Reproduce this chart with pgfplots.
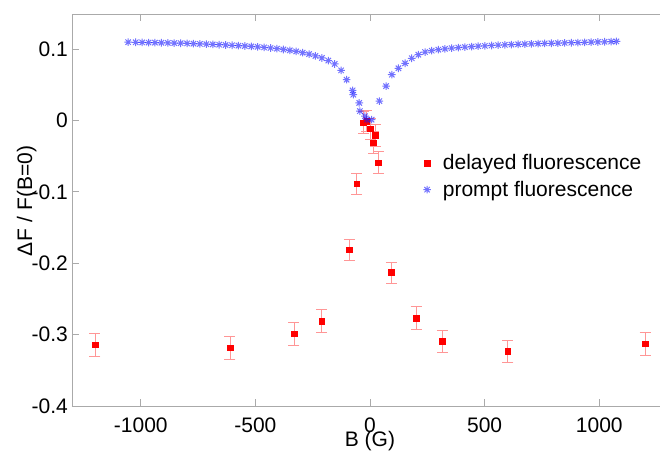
\documentclass[border=0pt]{standalone}
\usepackage{pgfplots}
\pgfplotsset{compat=1.18}
\usepackage{fontspec}
\setmainfont{Liberation Sans}
\definecolor{axgray}{RGB}{170,170,170}
\definecolor{errred}{RGB}{255,150,150}
\definecolor{promptblue}{RGB}{20,20,255}

% eight-armed star, like the + and x put together
\pgfdeclareplotmark{star8}{%
  \pgfpathmoveto{\pgfqpoint{-\pgfplotmarksize}{0pt}}%
  \pgfpathlineto{\pgfqpoint{\pgfplotmarksize}{0pt}}%
  \pgfpathmoveto{\pgfqpoint{0pt}{-\pgfplotmarksize}}%
  \pgfpathlineto{\pgfqpoint{0pt}{\pgfplotmarksize}}%
  \pgfpathmoveto{\pgfqpoint{-.707\pgfplotmarksize}{-.707\pgfplotmarksize}}%
  \pgfpathlineto{\pgfqpoint{.707\pgfplotmarksize}{.707\pgfplotmarksize}}%
  \pgfpathmoveto{\pgfqpoint{-.707\pgfplotmarksize}{.707\pgfplotmarksize}}%
  \pgfpathlineto{\pgfqpoint{.707\pgfplotmarksize}{-.707\pgfplotmarksize}}%
  \pgfusepathqstroke}

\begin{document}
\begin{tikzpicture}
  \begin{axis}[
    scale only axis,
    width=588pt, height=392pt,
    xmin=-1300, xmax=1265,
    ymin=-0.4, ymax=0.149,
    axis x line*=box,
    axis y line*=left,
    axis line style={axgray, line width=0.8pt},
    tick style={axgray, line width=0.8pt},
    tick align=inside,
    major tick length=7pt,
    xtick={-1000,-500,0,500,1000},
    xticklabels={-1000,-500,0,500,1000},
    ytick={-0.4,-0.3,-0.2,-0.1,0,0.1},
    yticklabels={-0.4,-0.3,-0.2,-0.1,0,0.1},
    font=\fontsize{21}{25}\selectfont,
    xticklabel style={inner sep=0pt, anchor=north, yshift=-12pt},
    yticklabel style={inner sep=0pt, anchor=east, xshift=-4pt},
    xlabel={B (G)},
    xlabel style={at={(axis description cs:0.5068,-0.1038)}, anchor=base, inner sep=0pt},
    ylabel={ΔF\hspace{0.3em}/\hspace{0.3em}F(B=0)},
    ylabel style={at={(axis description cs:-0.068,0.523)}, anchor=base, inner sep=0pt},
    legend style={draw=none, fill=none, at={(axis description cs:0.592,0.652)}, anchor=north west,
      row sep=6pt, column sep=10pt, nodes={inner sep=2pt}},
    legend cell align=left,
  ]
    % delayed fluorescence, with error bars
    \addplot [only marks, mark=square*, mark size=2.8pt, color=red,
      error bars/.cd, y dir=both, y explicit,
      error bar style={errred, line width=0.8pt},
      error mark options={errred, rotate=90, mark size=5.5pt, line width=0.8pt}]
      coordinates {
      (-1200, -0.3144) +- (0, 0.0156)
      (-611,  -0.3185) +- (0, 0.0160)
      (-332,  -0.2990) +- (0, 0.0155)
      (-211,  -0.2810) +- (0, 0.0156)
      (-90,   -0.1813) +- (0, 0.0150)
      (-58,   -0.0884) +- (0, 0.0146)
      (-29,   -0.0030) +- (0, 0.0150)
      (-14,   -0.0010) +- (0, 0.0150)
      (0,     -0.0117) +- (0, 0.0150)
      (14,    -0.0310) +- (0, 0.0150)
      (22,    -0.0210) +- (0, 0.0150)
      (36,    -0.0590) +- (0, 0.0150)
      (93,    -0.2130) +- (0, 0.0148)
      (201,   -0.2767) +- (0, 0.0155)
      (316,   -0.3090) +- (0, 0.0155)
      (601,   -0.3236) +- (0, 0.0155)
      (1200,  -0.3130) +- (0, 0.0155)
    };

    % prompt fluorescence
    \addplot [only marks, mark=star8, mark size=3.8pt, color=promptblue,
      mark options={opacity=0.6, line width=1pt}]
      coordinates {
      (-1055, 0.1096) (-1022, 0.1094) (-994, 0.1092) (-966, 0.1090)
      (-938, 0.1089) (-910, 0.1087) (-882, 0.1085) (-854, 0.1083)
      (-826, 0.1081) (-798, 0.1078) (-770, 0.1075) (-742, 0.1071)
      (-714, 0.1068) (-686, 0.1064) (-658, 0.1060) (-630, 0.1056)
      (-602, 0.1052) (-574, 0.1047) (-546, 0.1042) (-518, 0.1036)
      (-490, 0.1030) (-462, 0.1022) (-434, 0.1014) (-406, 0.1004)
      (-378, 0.0993) (-350, 0.0981) (-322, 0.0966) (-294, 0.0948)
      (-266, 0.0928) (-238, 0.0904) (-210, 0.0874) (-182, 0.0838)
      (-154, 0.0790) (-126, 0.0700) (-102, 0.0570) (-76, 0.0420)
      (-73, 0.0360) (-47, 0.0245) (-44, 0.0130) (-22, 0.0060)
      (-14, 0.0010) (7, 0.0010)
      (41, 0.0270) (70, 0.0480) (95, 0.0640) (124, 0.0730)
      (153, 0.0800) (182, 0.0870) (211, 0.0920) (240, 0.0957)
      (269, 0.0976) (298, 0.0990) (327, 0.1002) (356, 0.1012)
      (385, 0.1020) (414, 0.1027) (443, 0.1033) (472, 0.1039)
      (501, 0.1044) (530, 0.1049) (559, 0.1054) (588, 0.1058)
      (617, 0.1062) (646, 0.1066) (675, 0.1069) (704, 0.1072)
      (733, 0.1075) (762, 0.1078) (791, 0.1080) (820, 0.1083)
      (849, 0.1085) (878, 0.1088) (907, 0.1090) (936, 0.1093)
      (965, 0.1096) (994, 0.1098) (1023, 0.1101) (1052, 0.1104)
      (1075, 0.1106)
    };

    \legend{delayed fluorescence, prompt fluorescence}
  \end{axis}
  \pgfresetboundingbox
  \useasboundingbox (-72pt,-46pt) rectangle (588pt,406pt);
\end{tikzpicture}
\end{document}
